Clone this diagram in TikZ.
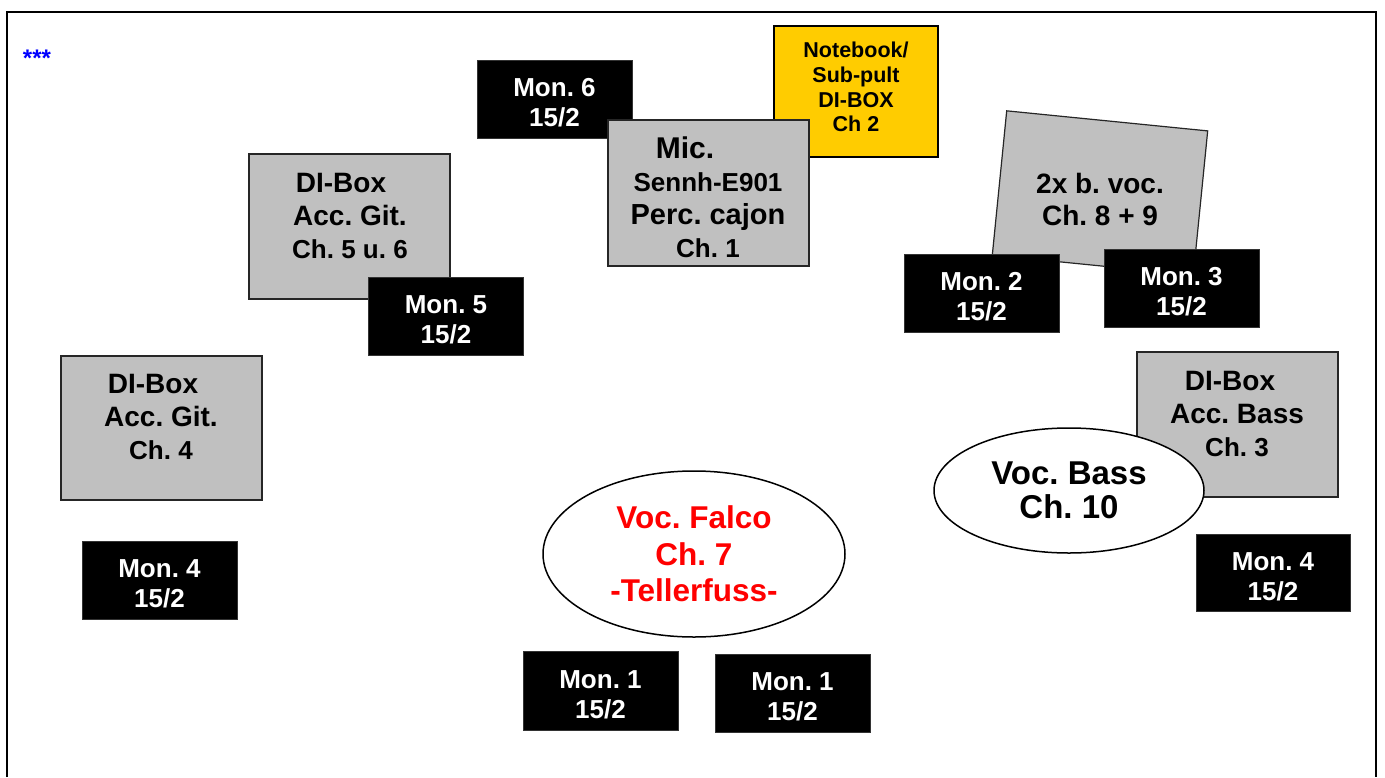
\documentclass[tikz,border=0pt]{standalone}
\usepackage{fontspec}
\setmainfont{Liberation Sans}
\usetikzlibrary{shapes.geometric}
\definecolor{boxgray}{HTML}{C0C0C0}
\definecolor{padyellow}{HTML}{FFCC00}
\definecolor{falcored}{HTML}{FF0000}
\definecolor{starblue}{HTML}{0000FF}
\frenchspacing
\tikzset{
  monitor/.style={draw=black!80,fill=black,text=white,align=center,inner sep=0pt,
    text height=55pt,text depth=0pt,
    minimum width=155pt,minimum height=78pt,font=\fontsize{26}{30}\selectfont\bfseries},
  dibox/.style={draw=black!85,fill=boxgray,line width=1.2pt,inner sep=0pt,
    minimum width=201pt,minimum height=145pt},
  boxtext/.style={align=center,inner sep=0pt,font=\fontsize{28}{33}\selectfont\bfseries},
  vocal/.style={draw=black,fill=white,ellipse,line width=1.5pt,inner sep=0pt,align=center}
}
\begin{document}
\begin{tikzpicture}[x=1pt,y=-1pt]
  \useasboundingbox (0,0) rectangle (1385,777);
  % stage frame
  \draw[line width=2.5pt] (7,777) -- (7,12) -- (1376,12) -- (1376,777);
  \node[text=starblue,inner sep=0pt,font=\fontsize{24}{28}\selectfont\bfseries] (stars) at (37,58) {***};

  % back line
  \node[monitor] (mon6) at (554.5,99) {Mon. 6\\15/2};
  \node[draw=black,fill=padyellow,line width=1.2pt,minimum width=164pt,minimum height=131pt] (pad) at (856,91.5) {};
  \node[align=center,inner sep=0pt,font=\fontsize{21.5}{24.7}\selectfont\bfseries] (padtext) at (856,87)
    {Notebook/\\Sub-pult\\DI-BOX\\Ch 2};
  \node[dibox,minimum height=146pt] (mic) at (708.5,193) {};
  \node[boxtext] (mictext) at (708,197)
    {{\fontsize{30}{35}\selectfont Mic.\hspace*{46pt}}\\{\fontsize{26}{30}\selectfont Sennh-E901}\\{\fontsize{29}{30}\selectfont Perc. cajon}\\{\fontsize{26}{30}\selectfont Ch. 1}};

  % left side
  \node[dibox] (di56) at (349.5,226.5) {};
  \node[boxtext] (di56text) at (350,215.5) {DI-Box\hspace*{18pt}\\Acc. Git.\\{\fontsize{26}{33}\selectfont Ch. 5 u. 6}};
  \node[monitor] (mon5) at (446,316) {Mon. 5\\15/2};
  \node[dibox,minimum height=144pt] (di4) at (161.5,428) {};
  \node[boxtext] (di4text) at (161,417) {DI-Box\hspace*{16pt}\\Acc. Git.\\{\fontsize{26}{33}\selectfont Ch. 4}};
  \node[monitor] (mon4l) at (159.5,580) {Mon. 4\\15/2};

  % front
  \node[vocal,minimum width=302pt,minimum height=166pt,text=falcored,
    font=\fontsize{31.5}{36.7}\selectfont\bfseries] (falco) at (694,554) {Voc. Falco\\Ch. 7\\-Tellerfuss-};
  \node[monitor,minimum height=79pt] (mon1a) at (600.5,690.5) {Mon. 1\\15/2};
  \node[monitor] (mon1b) at (792.5,693) {Mon. 1\\15/2};

  % right side
  \node[dibox,minimum width=202pt,rotate=-5.7] (bvoc) at (1100,193) {};
  \node[boxtext,font=\fontsize{28}{32}\selectfont\bfseries] (bvoctext) at (1100,199) {2x b. voc.\\Ch. 8 + 9};
  \node[monitor] (mon2) at (981.5,293) {Mon. 2\\15/2};
  \node[monitor] (mon3) at (1181.5,288) {Mon. 3\\15/2};
  \node[dibox] (dibass) at (1237.5,424.5) {};
  \node[boxtext] (dibasstext) at (1237,414) {DI-Box\hspace*{14pt}\\Acc. Bass\\{\fontsize{26}{33}\selectfont Ch. 3}};
  \node[vocal,minimum width=270pt,minimum height=125pt,
    font=\fontsize{33}{34}\selectfont\bfseries] (vocbass) at (1069,490.5) {Voc. Bass\\Ch. 10};
  \node[monitor,minimum width=154pt,minimum height=77pt] (mon4r) at (1273,572.5) {Mon. 4\\15/2};
\end{tikzpicture}
\end{document}
